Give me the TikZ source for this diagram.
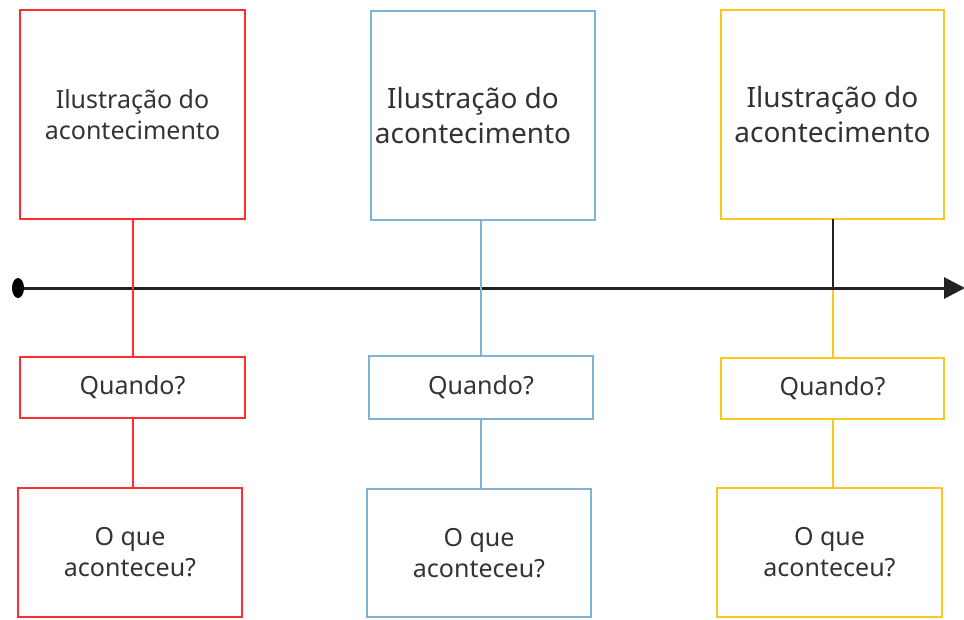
\documentclass[tikz,border=0pt]{standalone}
\usepackage{fontspec}
\setmainfont{Noto Sans}
\usetikzlibrary{arrows.meta}
\definecolor{cred}{HTML}{FF2E2E}
\definecolor{cblue}{HTML}{7FB3D5}
\definecolor{cyel}{HTML}{FFC61E}
\definecolor{ctxt}{HTML}{333333}
\definecolor{cline}{HTML}{222222}
\begin{document}
\begin{tikzpicture}[x=1pt,y=-1pt,
  box/.style={draw,line width=2pt,rectangle,inner sep=0pt,outer sep=0pt,align=center,text=ctxt},
  smallt/.style={font=\fontsize{25}{31}\selectfont},
  bigt/.style={font=\fontsize{28}{35}\selectfont},
  conn/.style={line width=2pt},
  tline/.style={line width=3pt,draw=cline}]
\useasboundingbox (0,0) rectangle (964,619);
% top boxes
\node[box,draw=cred,smallt,minimum width=225pt,minimum height=209pt] (rt) at (132.5,114.5) {Ilustração do\\acontecimento};
\node[box,draw=cblue,bigt,minimum width=224pt,minimum height=209pt] (bt) at (483,115.5) {\hspace*{-20pt}Ilustração do\\\hspace*{-20pt}acontecimento};
\node[box,draw=cyel,bigt,minimum width=223pt,minimum height=209pt] (yt) at (832.5,114.5) {Ilustração do\\acontecimento};
% quando boxes
\node[box,draw=cred,smallt,minimum width=225pt,minimum height=61pt] (rq) at (132.5,387) {Quando?};
\node[box,draw=cblue,smallt,minimum width=224pt,minimum height=63pt] (bq) at (481,387.5) {Quando?};
\node[box,draw=cyel,smallt,minimum width=223pt,minimum height=61pt] (yq) at (832.5,388.5) {Quando?};
% bottom boxes
\node[box,draw=cred,smallt,minimum width=224pt,minimum height=129pt] (rb) at (130,552.5) {O que\\aconteceu?};
\node[box,draw=cblue,smallt,minimum width=224pt,minimum height=128pt] (bb) at (479,553) {O que\\aconteceu?};
\node[box,draw=cyel,smallt,minimum width=225pt,minimum height=129pt] (yb) at (829.5,552.5) {O que\\aconteceu?};
% timeline
\coordinate (tstart) at (18,288);
\coordinate (tend) at (965,288);
\coordinate (ycross) at (833,288);
\draw[tline,-{Triangle[length=21pt,width=21pt]}] (tstart) -- (tend);
\fill[black] (tstart) ellipse [x radius=6pt,y radius=10pt];
% connectors
\draw[conn,cred] (rt.south) -- (rq.north);
\draw[conn,cred] (rq.south) -- (rq.south |- rb.north);
\draw[conn,cblue] (bt.south -| bq.north) -- (bq.north);
\draw[conn,cblue] (bq.south) -- (bq.south |- bb.north);
\draw[conn,cline] (yt.south -| ycross) -- (ycross);
\draw[conn,cyel] ([yshift=-2pt]ycross) -- (ycross |- yq.north);
\draw[conn,cyel] (yq.south -| ycross) -- (ycross |- yb.north);
\end{tikzpicture}
\end{document}
